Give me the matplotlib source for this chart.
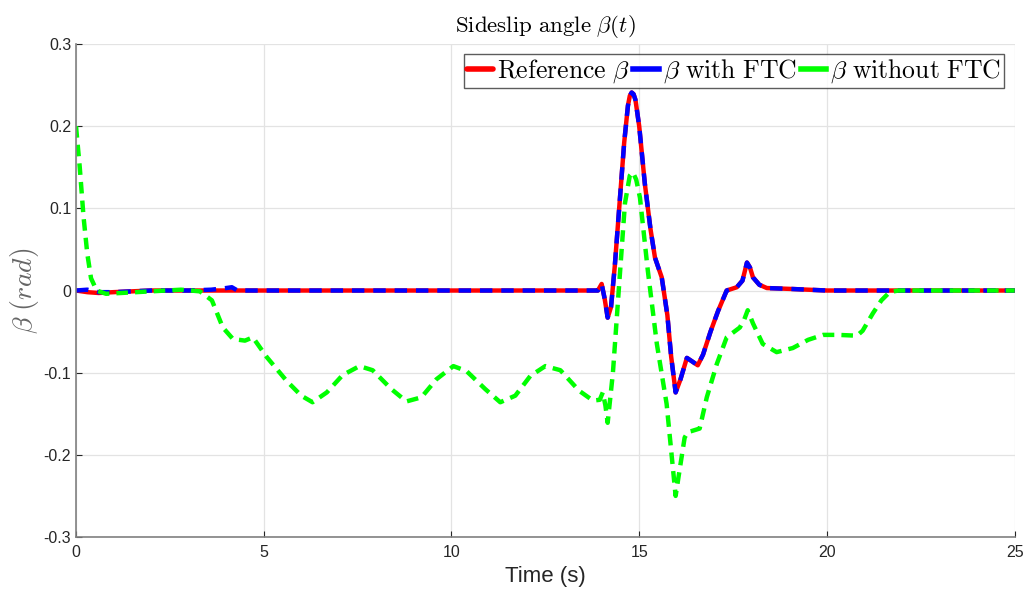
import matplotlib
matplotlib.use("Agg")
from matplotlib import pyplot as plt

plt.rcParams['font.family'] = ['Liberation Sans', 'DejaVu Sans']
plt.rcParams['mathtext.fontset'] = 'cm'
plt.rcParams['axes.unicode_minus'] = False

# reference beta
t_ref = [0, 0.3, 0.6, 1.0, 1.5, 2.0, 3.0,
         13.9, 14.0, 14.08, 14.16, 14.25, 14.35, 14.45,
         14.6, 14.7, 14.75, 14.8, 14.85, 14.9, 15.0,
         15.15, 15.3, 15.42, 15.6, 15.75,
         15.85, 15.97, 16.1, 16.27, 16.4,
         16.56, 16.7, 16.9, 17.1, 17.33,
         17.6, 17.75, 17.87, 17.95, 18.03,
         18.2, 18.4, 19.0, 20.0, 25.0]
b_ref = [0, -0.002, -0.003, -0.002, -0.001, 0, 0,
         0, 0.008, -0.01, -0.033, -0.02, 0.03, 0.09,
         0.18, 0.225, 0.237, 0.241, 0.239, 0.232, 0.2,
         0.13, 0.075, 0.04, 0.016, -0.03,
         -0.08, -0.124, -0.108, -0.082, -0.086,
         -0.091, -0.078, -0.05, -0.025, 0.0,
         0.004, 0.012, 0.034, 0.028, 0.016,
         0.007, 0.003, 0.002, 0.0, 0.0]

# beta with FTC (same as reference after t = 13.9)
t_ftc_start = [0, 0.3, 0.6, 1.0, 2.0, 3.0, 3.6, 4.0, 4.15, 4.3]
b_ftc_start = [0, 0.001, -0.002, -0.002, 0, 0, 0.001, 0.003, 0.004, 0.0]
t_ftc = t_ftc_start + t_ref[7:]
b_ftc = b_ftc_start + b_ref[7:]

# beta without FTC
t_nf = [0, 0.1, 0.2, 0.3, 0.4, 0.55, 0.8, 1.2, 2.0, 2.8,
        3.3, 3.62, 3.91, 4.18, 4.5, 4.71, 5.08, 5.61, 6.0, 6.3,
        6.68, 7.1, 7.55, 7.9, 8.4, 8.8, 9.2, 9.6, 10.05, 10.4,
        10.9, 11.3, 11.7, 12.1, 12.5, 12.9, 13.4, 13.77, 13.95, 14.03,
        14.1, 14.16, 14.3, 14.43, 14.62, 14.75, 14.83, 14.92, 15.02, 15.23,
        15.47, 15.73, 15.97, 16.03, 16.21, 16.3, 16.4, 16.61, 16.8, 17.07,
        17.33, 17.68, 17.8, 17.89, 18.03, 18.29, 18.66, 19.09, 19.5, 19.9,
        20.3, 20.8, 20.95, 21.22, 21.45, 21.67, 21.9, 25.0]
b_nf = [0.2, 0.15, 0.09, 0.045, 0.015, 0.0, -0.004, -0.003, -0.001, 0.001,
        -0.001, -0.012, -0.045, -0.059, -0.061, -0.057, -0.081, -0.11, -0.128, -0.136,
        -0.124, -0.103, -0.092, -0.097, -0.12, -0.135, -0.13, -0.108, -0.092, -0.098,
        -0.12, -0.136, -0.128, -0.104, -0.092, -0.097, -0.122, -0.134, -0.133, -0.124,
        -0.14, -0.161, -0.1, -0.016, 0.106, 0.14, 0.144, 0.135, 0.113, 0.024,
        -0.065, -0.138, -0.25, -0.232, -0.179, -0.172, -0.171, -0.168, -0.13, -0.089,
        -0.057, -0.045, -0.035, -0.024, -0.04, -0.065, -0.075, -0.07, -0.06, -0.054,
        -0.054, -0.055, -0.049, -0.028, -0.012, -0.002, 0.0, 0.0]

x_ticks = [0, 5, 10, 15, 20, 25]
y_ticks = [-0.3, -0.2, -0.1, 0, 0.1, 0.2, 0.3]
y_labels = ['-0.3', '-0.2', '-0.1', '0', '0.1', '0.2', '0.3']

fig = plt.figure(figsize=(10.27, 5.99), dpi=100)
ax = fig.add_axes([0.074, 0.1035, 0.914, 0.823])

lw = 3.2
ax.plot(t_ref, b_ref, color=(1, 0, 0), lw=lw, label=r'$\mathrm{Reference}\ \beta$',
        solid_joinstyle='round', solid_capstyle='round')
ax.plot(t_ftc, b_ftc, color=(0, 0, 1), lw=lw, dashes=(2.8, 2.0),
        dash_joinstyle='round', label=r'$\beta\ \mathrm{with\ FTC}$')
ax.plot(t_nf, b_nf, color=(0, 1, 0), lw=lw, dashes=(2.6, 1.6),
        dash_joinstyle='round', label=r'$\beta\ \mathrm{without\ FTC}$')

ax.set_xlim(0, 25)
ax.set_ylim(-0.3, 0.3)
ax.set_xticks(x_ticks)
ax.set_yticks(y_ticks)
ax.set_yticklabels(y_labels)
ax.grid(True, color='#e3e3e3', lw=0.9)
ax.set_axisbelow(True)
ax.tick_params(direction='in', length=4, colors='#262626', labelsize=11.5,
               width=0.8)
ax.tick_params(axis='x', pad=6)
for s in ['top', 'right']:
    ax.spines[s].set_visible(False)
ax.spines['left'].set_color('#808080')
ax.spines['bottom'].set_color('#808080')
ax.spines['left'].set_linewidth(1.2)
ax.spines['bottom'].set_linewidth(1.2)

ax.set_title(r'$\mathrm{Sideslip\ angle}\ \beta(t)$', fontsize=16.5, pad=9)
ax.set_xlabel('Time (s)', fontsize=16, color='#262626')
ax.set_ylabel(r'$\beta\ (rad)$', fontsize=20, color='#666666', labelpad=2)

leg = ax.legend(loc='upper right', ncol=3, fontsize=18.5, frameon=True,
                fancybox=False, edgecolor='#333333', handlelength=1.0,
                handletextpad=0.15, columnspacing=0.15, borderpad=0.12,
                borderaxespad=0.4)
leg.get_frame().set_linewidth(1.0)
for h in leg.get_lines():
    h.set_linestyle('-')
    h.set_linewidth(4)

fig.savefig('out.png', dpi=100)
